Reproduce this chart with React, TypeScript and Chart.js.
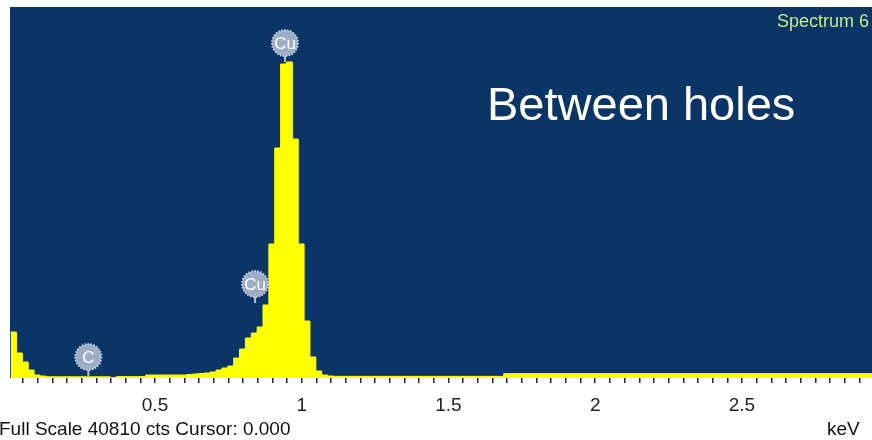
import React, { useEffect, useRef } from 'react';
import { Chart, registerables } from 'chart.js';

Chart.register(...registerables);

// Spectrum: each entry is the start energy (keV) of a channel run and its counts
const binStartKeV = [
  0.008, 0.028, 0.048, 0.068, 0.088, 0.108, 0.128, 0.348, 0.368, 0.468,
  0.608, 0.628, 0.648, 0.668, 0.688, 0.708, 0.728, 0.748, 0.768, 0.788,
  0.808, 0.828, 0.848, 0.868, 0.888, 0.908, 0.928, 0.948, 0.968, 0.988,
  1.008, 1.028, 1.048, 1.068, 1.088, 1.108, 1.688, 2.948,
];
const binCounts = [
  5060, 2750, 1760, 880, 330, 220, 130, 40, 150, 330,
  385, 440, 500, 550, 660, 880, 1100, 1320, 2200, 3190,
  4400, 4950, 5610, 8030, 14740, 25300, 34540, 34760, 26290, 14740,
  6270, 2310, 770, 330, 220, 180, 480, 480,
];

// Element markers
const markerLabels = ['C', 'Cu', 'Cu'];
const markerKeV = [0.273, 0.841, 0.943];
const markerCounts = [220, 8250, 34760];

// Axis
const tickValues = [0.5, 1, 1.5, 2, 2.5];
const tickLabels = ['0.5', '1', '1.5', '2', '2.5'];
const minorTickStep = 0.05;
const axisMinKeV = 0.006;
const axisMaxKeV = 2.943;
const fullScaleCts = 40810;
const cursorText = '0.000';
const spectrumName = 'Spectrum 6';
const annotation = 'Between holes';

const FONT = '"Liberation Sans", Arial, sans-serif';

export default function App() {
  const ref = useRef<HTMLCanvasElement | null>(null);

  useEffect(() => {
    const canvas = ref.current;
    if (!canvas) return;

    const bgPlugin = {
      id: 'bg',
      beforeDraw(chart: any) {
        const { ctx, chartArea } = chart;
        ctx.save();
        ctx.fillStyle = '#0a3566';
        ctx.fillRect(chartArea.left, chartArea.top, chartArea.right - chartArea.left, chartArea.bottom - chartArea.top);
        ctx.restore();
      },
    };

    const overlayPlugin = {
      id: 'overlay',
      afterDraw(chart: any) {
        const { ctx } = chart;
        const xs = chart.scales.x;
        const ys = chart.scales.y;
        ctx.save();
        // markers
        for (let i = 0; i < markerLabels.length; i++) {
          const px = xs.getPixelForValue(markerKeV[i]);
          const py = ys.getPixelForValue(markerCounts[i]);
          const r = 13;
          const stem = 6;
          ctx.strokeStyle = '#b4c0d3';
          ctx.lineWidth = 2;
          ctx.beginPath();
          ctx.moveTo(px, py);
          ctx.lineTo(px, py - stem - 2);
          ctx.stroke();
          const cy = py - stem - r;
          ctx.fillStyle = '#9dadc7';
          ctx.beginPath();
          ctx.arc(px, cy, r, 0, Math.PI * 2);
          ctx.fill();
          ctx.setLineDash([1.5, 1.5]);
          ctx.strokeStyle = '#c6cfdd';
          ctx.lineWidth = 2;
          ctx.beginPath();
          ctx.arc(px, cy, r, 0, Math.PI * 2);
          ctx.stroke();
          ctx.setLineDash([]);
          ctx.fillStyle = '#ffffff';
          ctx.font = `17px ${FONT}`;
          ctx.textAlign = 'center';
          ctx.textBaseline = 'middle';
          ctx.fillText(markerLabels[i], px, cy + 1);
        }
        // texts
        ctx.textBaseline = 'alphabetic';
        ctx.textAlign = 'left';
        ctx.fillStyle = '#c9e98a';
        ctx.font = `18px ${FONT}`;
        ctx.fillText(spectrumName, 777, 27);
        ctx.fillStyle = '#ffffff';
        ctx.font = `47px ${FONT}`;
        ctx.fillText(annotation, 487, 120);
        ctx.fillStyle = '#111111';
        ctx.font = `19px ${FONT}`;
        ctx.fillText(`Full Scale ${fullScaleCts} cts Cursor: ${cursorText}`, -1, 435);
        ctx.fillText('keV', 827, 435);
        ctx.restore();
      },
    };

    const chart = new Chart(canvas, {
      type: 'line',
      data: {
        datasets: [
          {
            data: binStartKeV.map((x, i) => ({ x, y: binCounts[i] })),
            stepped: 'before',
            fill: 'origin',
            backgroundColor: '#ffff00',
            borderColor: '#ffff00',
            borderWidth: 1,
            pointRadius: 0,
          },
        ],
      },
      options: {
        animation: false,
        responsive: false,
        layout: { padding: { left: 10, top: 7, right: 0, bottom: 0 } },
        scales: {
          x: {
            type: 'linear',
            position: 'bottom',
            min: axisMinKeV,
            max: axisMaxKeV,
            afterFit: (s: any) => {
              s.height = 62;
            },
            afterBuildTicks: (s: any) => {
              const t: any[] = [];
              const n = Math.floor(axisMaxKeV / minorTickStep);
              for (let k = 1; k <= n; k++) t.push({ value: k * minorTickStep });
              s.ticks = t;
            },
            grid: { drawOnChartArea: false, drawTicks: true, tickLength: 5, color: '#222222', lineWidth: 1.5 },
            border: { display: false },
            ticks: {
              autoSkip: false,
              maxRotation: 0,
              padding: 11,
              color: '#222222',
              font: { family: FONT, size: 19 },
              callback: (v: any) => {
                const i = tickValues.findIndex((t) => Math.abs(t - Number(v)) < 1e-6);
                return i >= 0 ? tickLabels[i] : '';
              },
            },
          },
          y: { display: false, min: 0, max: fullScaleCts },
        },
        plugins: { legend: { display: false }, tooltip: { enabled: false } },
      },
      plugins: [bgPlugin, overlayPlugin],
    } as any);

    return () => chart.destroy();
  }, []);

  return (
    <div style={{ position: 'fixed', left: 0, top: 0, width: 872, height: 440, background: '#ffffff' }}>
      <canvas ref={ref} width={872} height={440} style={{ display: 'block', width: 872, height: 440 }} />
    </div>
  );
}
